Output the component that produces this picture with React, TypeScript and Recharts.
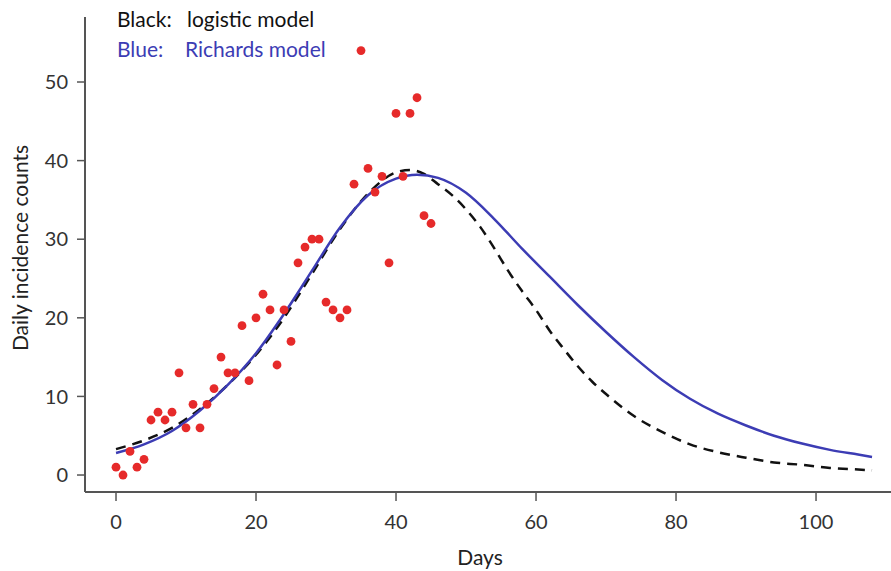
import React from 'react';
import { ComposedChart, Line, Scatter, XAxis, YAxis } from 'recharts';

// observed daily incidence, days 0..45
const obsDays = Array.from({ length: 46 }, (_, i) => i);
const obsCounts = [
  1, 0, 3, 1, 2, 7, 8, 7, 8, 13,
  6, 9, 6, 9, 11, 15, 13, 13, 19, 12,
  20, 23, 21, 14, 21, 17, 27, 29, 30, 30,
  22, 21, 20, 21, 37, 54, 39, 36, 38, 27,
  46, 38, 46, 48, 33, 32,
];

// Richards model fit (blue)
const richDays = [0, 4, 8, 12, 16, 20, 24, 28, 32, 36, 40, 43, 46, 50, 54, 58, 62, 66, 70, 74, 78, 82, 86, 90, 94, 98, 102, 106, 108];
const richVals = [2.8, 3.9, 5.6, 8.2, 11.5, 15.5, 20.5, 26, 31.5, 35.6, 37.7, 38.2, 37.8, 35.9, 32.6, 28.8, 25.2, 21.6, 18.2, 15.0, 12.1, 9.7, 7.8, 6.3, 5.0, 4.0, 3.2, 2.6, 2.3];

// logistic model fit (black dashed)
const logDays = [0, 4, 8, 12, 16, 20, 24, 28, 32, 36, 40, 42, 44, 46, 48, 50, 52, 54, 56, 58, 60, 62, 64, 66, 68, 70, 74, 78, 82, 86, 90, 94, 98, 102, 106, 108];
const logVals = [3.3, 4.4, 6.0, 8.4, 11.5, 15.3, 20.0, 25.6, 31.3, 35.8, 38.5, 38.8, 38.3, 37.0, 35.6, 33.8, 31.6, 28.9, 26.0, 23.4, 21.0, 18.3, 16.0, 13.8, 11.9, 10.3, 7.5, 5.5, 3.9, 2.9, 2.2, 1.6, 1.3, 0.9, 0.7, 0.6];

const xTicks = [0, 20, 40, 60, 80, 100];
const yTicks = [0, 10, 20, 30, 40, 50];

const observed = obsDays.map((d, i) => ({ day: d, count: obsCounts[i] }));
const richards = richDays.map((d, i) => ({ day: d, value: richVals[i] }));
const logistic = logDays.map((d, i) => ({ day: d, value: logVals[i] }));

const FONT = 'Lato, "Open Sans", sans-serif';
const AXIS = '#555555';

const RedDot = (props: any) => {
  const { cx, cy } = props;
  return <circle cx={cx} cy={cy} r={4.4} fill="#e62a2a" />;
};

export default function App() {
  return (
    <div style={{ position: 'absolute', left: 0, top: 0, width: 891, height: 571, background: '#fff', fontFamily: FONT }}>
      <ComposedChart width={891} height={571} margin={{ top: 17, right: 0, bottom: 0, left: 0 }}>
        <XAxis
          type="number"
          dataKey="day"
          domain={[-4.43, 110.71]}
          ticks={xTicks}
          allowDataOverflow
          height={79}
          tickSize={9}
          tickMargin={14}
          axisLine={{ stroke: AXIS, strokeWidth: 2 }}
          tickLine={{ stroke: AXIS, strokeWidth: 1.5 }}
          tick={{ fontSize: 20, fill: '#333', fontFamily: FONT }}
        />
        <YAxis
          type="number"
          domain={[-2.16, 58.27]}
          ticks={yTicks}
          allowDataOverflow
          width={85}
          tickSize={8}
          tickMargin={9}
          axisLine={{ stroke: AXIS, strokeWidth: 2 }}
          tickLine={{ stroke: AXIS, strokeWidth: 1.5 }}
          tick={{ fontSize: 20, fill: '#333', fontFamily: FONT }}
        />
        <Line
          data={logistic}
          dataKey="value"
          type="monotone"
          stroke="#111"
          strokeWidth={2.5}
          strokeDasharray="10 7"
          dot={false}
          activeDot={false}
          isAnimationActive={false}
        />
        <Line
          data={richards}
          dataKey="value"
          type="monotone"
          stroke="#3c3cb4"
          strokeWidth={2.5}
          dot={false}
          activeDot={false}
          isAnimationActive={false}
        />
        <Scatter data={observed} dataKey="count" shape={<RedDot />} isAnimationActive={false} />
      </ComposedChart>

      {/* legend text */}
      <div style={{ position: 'absolute', left: 117, top: 6, fontSize: 21, color: '#111', whiteSpace: 'nowrap' }}>
        <span>Black:</span>
        <span style={{ position: 'absolute', left: 70 }}>logistic model</span>
      </div>
      <div style={{ position: 'absolute', left: 117, top: 36, fontSize: 21, color: '#3c3cb4', whiteSpace: 'nowrap' }}>
        <span>Blue:</span>
        <span style={{ position: 'absolute', left: 68 }}>Richards model</span>
      </div>

      {/* axis titles */}
      <div style={{ position: 'absolute', left: 480, top: 557, transform: 'translate(-50%, -50%)', fontSize: 21, lineHeight: '24px', color: '#222' }}>Days</div>
      <div style={{ position: 'absolute', left: 19, top: 248, transform: 'translate(-50%, -50%) rotate(-90deg)', fontSize: 21, color: '#222', whiteSpace: 'nowrap' }}>
        Daily incidence counts
      </div>
    </div>
  );
}
